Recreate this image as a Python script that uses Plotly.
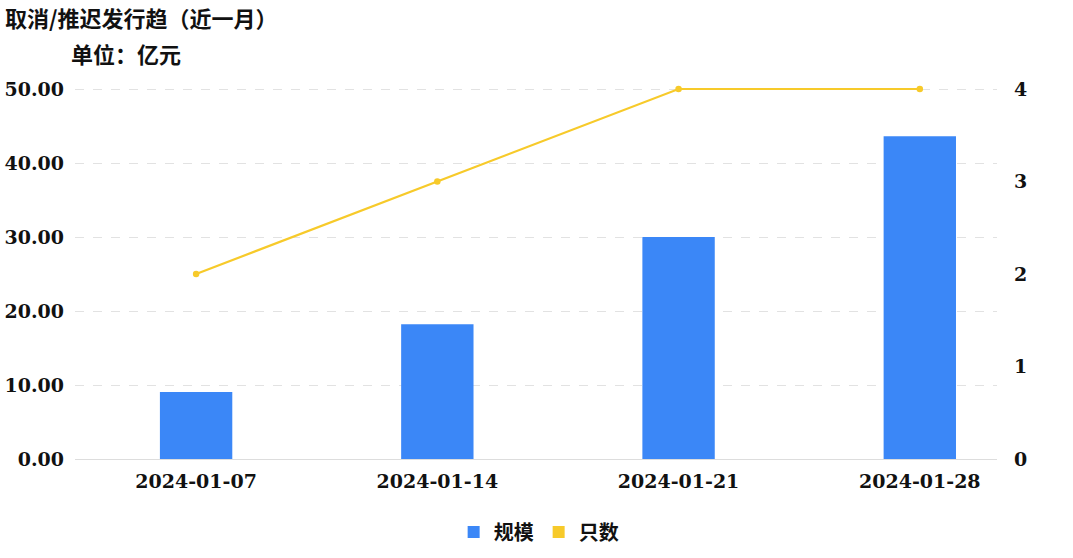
import plotly.graph_objects as go

dates = ["2024-01-07", "2024-01-14", "2024-01-21", "2024-01-28"]
scale = [9.05, 18.2, 30.0, 43.6]   # 规模 (亿元)
counts = [2, 3, 4, 4]              # 只数

BAR = "#3b87f7"
LINE = "#f7ca2a"
SERIF = "DejaVu Serif, serif"
CJK = "Noto Sans CJK SC"

T, B = 87, 99
PH = 558 - T - B
k = PH / 370.0

fig = go.Figure()
fig.add_trace(go.Bar(x=dates, y=scale, name="规模", marker=dict(color=BAR, line=dict(width=0)),
                     width=0.3, yaxis="y"))
fig.add_trace(go.Scatter(x=dates, y=counts, name="只数", mode="lines+markers", yaxis="y2",
                         line=dict(color=LINE, width=2.2), marker=dict(size=6.5, color=LINE),
                         cliponaxis=False, showlegend=False, legendgroup="c"))
fig.add_trace(go.Scatter(x=[None], y=[None], name="只数", mode="markers", yaxis="y2",
                         marker=dict(symbol="square", size=11, color=LINE),
                         legendgroup="c", showlegend=True))

fig.update_layout(
    width=1073, height=558,
    margin=dict(l=75, r=76, t=T, b=B, autoexpand=False),
    paper_bgcolor="white", plot_bgcolor="white",
    font=dict(family=SERIF, size=19, color="#111", weight="bold"),
    showlegend=True,
    legend=dict(orientation="h", x=0.502, xref="container", xanchor="center", y=26 / 558, yref="container",
                yanchor="middle", font=dict(family=CJK, size=20, color="#111", weight="bold"),
                itemwidth=30, traceorder="normal", itemsizing="constant"),
    xaxis=dict(type="category", range=[-0.502, 3.32], showgrid=False, showline=True, automargin=False,
               linecolor="#dddddd", linewidth=1, ticks="", ticklabelstandoff=5,
               tickfont=dict(family=SERIF, size=19, weight="bold")),
    yaxis=dict(range=[0, 50 * k], tickvals=[0, 10, 20, 30, 40, 50], tickformat=".2f", showgrid=True,
               gridcolor="#e2e2e2", automargin=False,
               griddash="dash", gridwidth=1, zeroline=False, showline=False, ticks="",
               ticklabelstandoff=10, tickfont=dict(family=SERIF, size=19, weight="bold")),
    yaxis2=dict(range=[0, 4 * k], tickvals=[0, 1, 2, 3, 4], overlaying="y", side="right", showgrid=False,
                zeroline=False, showline=False, ticks="", ticklabelstandoff=16, automargin=False,
                tickfont=dict(family=SERIF, size=19, weight="bold")),
    annotations=[
        dict(text="取消/推迟发行趋（近一月）", xref="paper", yref="paper",
             x=(3 - 75) / 922, y=1 + (T - 17) / PH, showarrow=False,
             xanchor="left", yanchor="middle", font=dict(family=CJK, size=22, color="#111", weight="bold")),
        dict(text="单位：亿元", xref="paper", yref="paper",
             x=(69 - 75) / 922, y=1 + (T - 53) / PH, showarrow=False,
             xanchor="left", yanchor="middle", font=dict(family=CJK, size=22, color="#111", weight="bold")),
    ],
)

fig.write_html("out.html", post_script="document.body.style.margin='0';",
               config={"displayModeBar": False})
